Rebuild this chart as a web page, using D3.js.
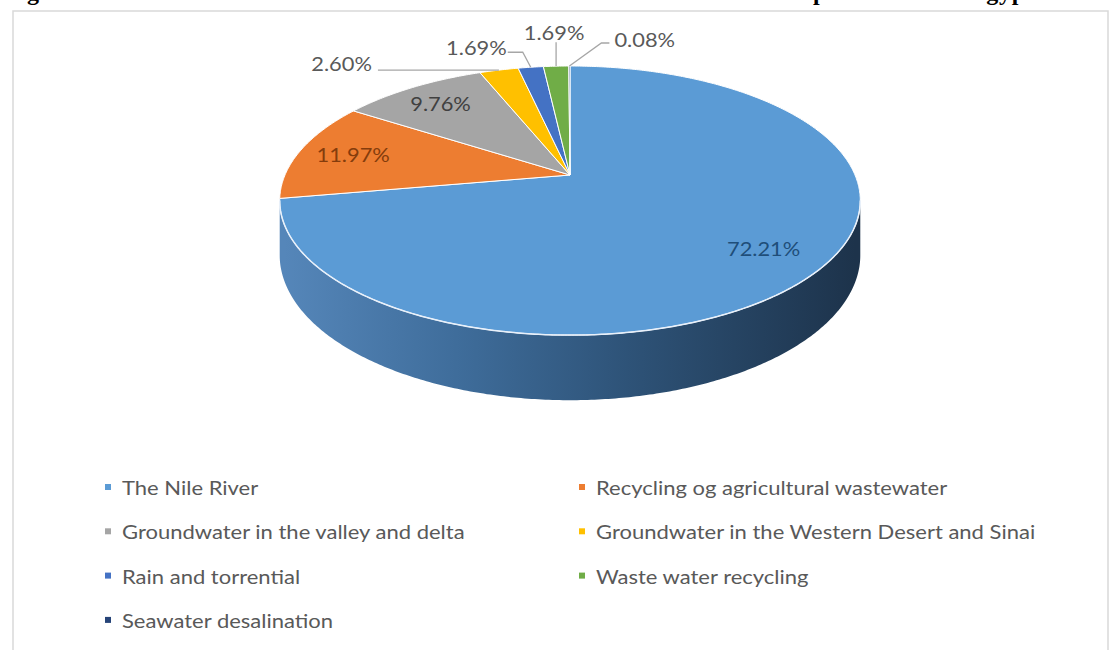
<!DOCTYPE html>
<html><head><meta charset="utf-8">
<script src="https://cdn.jsdelivr.net/npm/d3@7"></script>
<style>html,body{margin:0;padding:0;background:#fff;} svg{display:block;}</style>
</head><body>
<svg id="chart" width="1120" height="650"></svg>
<script>
// ---- data ----
const categories = ["The Nile River","Recycling og agricultural wastewater","Groundwater in the valley and delta","Groundwater in the Western Desert and Sinai","Rain and torrential","Waste water recycling","Seawater desalination"];
const shares = [72.21, 11.97, 9.76, 2.60, 1.69, 1.69, 0.08];
const valueLabels = ["72.21%","11.97%","9.76%","2.60%","1.69%","1.69%","0.08%"];
const colors = ["#5b9bd5","#ed7d31","#a5a5a5","#ffc000","#4472c4","#70ad47","#264478"];
const insideLabelColors = ["#1f4e79","#843c0c","#404040"];
const titleText = "Figure 1: The contribution of the main water resources to the total water production in Egypt";

// ---- layout ----
const svg = d3.select("#chart");
const cx = 570, cy = 175, Rx = 285, Ry = 129.7, K = 0.19, DEPTH = 52.7;
const TXT_SX = 1.15;

function proj(theta, f = 1, depth = 0) {
  const u = f * Math.sin(theta), v = f * Math.cos(theta);
  const w = 1 + K * v;
  return [cx + Rx * u / w, cy - Ry * v / w + depth / w];
}
function arcPts(a0, a1, depth = 0) {
  const n = Math.max(2, Math.ceil((a1 - a0) / 0.01));
  return d3.range(n + 1).map(i => proj(a0 + (a1 - a0) * i / n, 1, depth));
}
const line = d3.line();

// frame + title (title is cropped at the top edge, as in the source image)
svg.append("rect").attr("x", 13).attr("y", 11).attr("width", 1095).attr("height", 660)
  .attr("fill", "#fff").attr("stroke", "#d9d9d9").attr("stroke-width", 1.5);
svg.append("text").attr("x", 4).attr("y", -0.5)
  .attr("textLength", 1030).attr("lengthAdjust", "spacing")
  .style("font-family", "'Liberation Serif', 'Times New Roman', serif")
  .style("font-weight", "bold").style("font-size", "24px").attr("fill", "#000")
  .text(titleText);

const pie = d3.pie().sort(null).value(d => d).startAngle(0).endAngle(2 * Math.PI);
const arcs = pie(shares);

// gradient for side
const defs = svg.append("defs");
const grad = defs.append("linearGradient").attr("id", "sideGrad")
  .attr("gradientUnits", "userSpaceOnUse")
  .attr("x1", cx - Rx).attr("x2", cx + Rx).attr("y1", 0).attr("y2", 0);
[[0, "#5586b9"], [0.3, "#3f6d9b"], [0.6, "#2e5378"], [1, "#1d334b"]]
  .forEach(([o, c]) => grad.append("stop").attr("offset", o).attr("stop-color", c));

// side (visible front part)
const silL = Math.PI * 2 - Math.acos(-K), silR = Math.acos(-K);
arcs.forEach((a, i) => {
  const s = Math.max(a.startAngle, silR), e = Math.min(a.endAngle, silL);
  if (e <= s) return;
  const top = arcPts(s, e, 0), bot = arcPts(s, e, DEPTH).reverse();
  svg.append("path").attr("d", line(top.concat(bot)) + "Z")
    .attr("fill", i === 0 ? "url(#sideGrad)" : d3.color(colors[i]).darker(1));
});

// top face slices
arcs.forEach((a, i) => {
  const pts = [proj(0, 0)].concat(arcPts(a.startAngle, a.endAngle));
  svg.append("path").attr("d", line(pts) + "Z")
    .attr("fill", colors[i]).attr("stroke", "#fff").attr("stroke-width", 1)
    .attr("stroke-linejoin", "round");
});
// front rim highlight
svg.append("path").attr("d", line(arcPts(silR, silL)))
  .attr("fill", "none").attr("stroke", "#e8f0fa").attr("stroke-width", 1.5);

function addText(x, y, txt, color, anchor) {
  svg.append("text").attr("transform", `translate(${x},${y}) scale(${TXT_SX},1)`)
    .attr("text-anchor", anchor).attr("dominant-baseline", "central")
    .style("font-family", "Lato, 'Open Sans', sans-serif").style("font-size", "19px")
    .attr("fill", color).text(txt);
}

// inside labels
arcs.slice(0, 3).forEach((a, i) => {
  const p = proj((a.startAngle + a.endAngle) / 2, 0.8);
  addText(p[0], p[1], valueLabels[i], insideLabelColors[i], "middle");
});

// outside labels with leader lines (elbow offsets relative to rim point)
const outside = [
  { i: 3, path: [[-121, 0]], tx: -127, ty: -7, anchor: "end" },
  { i: 4, path: [[-8, -15], [-23, -15]], tx: -24, ty: -20, anchor: "end" },
  { i: 5, path: [[0, -24]], tx: -2, ty: -34, anchor: "middle" },
  { i: 6, path: [[32, -23], [40, -23]], tx: 45, ty: -26, anchor: "start" }
];
outside.forEach(o => {
  const a = arcs[o.i];
  const r = proj((a.startAngle + a.endAngle) / 2);
  const pts = [r].concat(o.path.map(d => [r[0] + d[0], r[1] + d[1]]));
  svg.append("path").attr("d", line(pts)).attr("fill", "none")
    .attr("stroke", "#a6a6a6").attr("stroke-width", 1.3);
  addText(r[0] + o.tx, r[1] + o.ty, valueLabels[o.i], "#595959", o.anchor);
});

// legend
const legX = [108, 582], legY = d3.range(4).map(r => 487 + r * 44.3);
categories.forEach((c, i) => {
  const x = legX[i % 2], y = legY[Math.floor(i / 2)];
  svg.append("rect").attr("x", x - 3).attr("y", y - 3).attr("width", 6).attr("height", 6).attr("fill", colors[i]);
  svg.append("text").attr("transform", `translate(${x + 14},${y}) scale(1.1,1)`)
    .attr("dominant-baseline", "central")
    .style("font-family", "Lato, 'Open Sans', sans-serif").style("font-size", "20px")
    .attr("fill", "#595959").text(c);
});
</script>
</body></html>
